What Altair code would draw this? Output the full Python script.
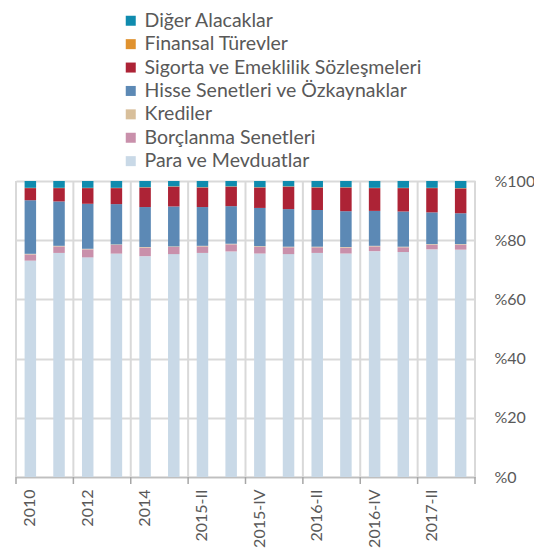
import altair as alt
import pandas as pd

categories = ["2010", "2011", "2012", "2013", "2014", "2015-I", "2015-II", "2015-III",
              "2015-IV", "2016-I", "2016-II", "2016-III", "2016-IV", "2017-I", "2017-II", "2017-III"]

para = [73.1, 75.7, 74.2, 75.4, 74.6, 75.3, 75.7, 76.2, 75.5, 75.3, 75.7, 75.5, 76.3, 76.0, 76.9, 76.8]
borc = [2.1, 2.2, 2.7, 2.9, 2.9, 2.4, 2.2, 2.4, 2.3, 2.3, 1.9, 2.0, 1.6, 1.6, 1.6, 1.7]
kredi = [0.2] * 16
hisse = [18.1, 15.0, 15.2, 13.6, 13.5, 13.5, 13.1, 12.7, 12.9, 12.7, 12.4, 12.1, 11.8, 11.9, 10.7, 10.4]
sigorta = [4.1, 4.5, 5.3, 5.4, 6.6, 6.7, 6.6, 6.6, 6.9, 7.6, 7.6, 8.0, 7.7, 7.9, 8.2, 8.4]
finansal = [0.1] * 16
diger = [2.3, 2.3, 2.3, 2.3, 2.1, 1.8, 2.1, 1.8, 2.1, 1.8, 2.1, 2.1, 2.3, 2.3, 2.3, 2.4]

# stack order: bottom -> top
series_names = ["Para ve Mevduatlar", "Borçlanma Senetleri", "Krediler",
                "\u00a0Hisse Senetleri ve Özkaynaklar", "Sigorta ve Emeklilik Sözleşmeleri",
                "Finansal Türevler", "Diğer Alacaklar"]
series_values = [para, borc, kredi, hisse, sigorta, finansal, diger]
series_colors = ["#C9D9E7", "#C990AB", "#D8BF9B", "#5C89B5", "#AD2336", "#E0922F", "#0F8BAE"]

rows = []
for order, (name, vals) in enumerate(zip(series_names, series_values)):
    for cat, v in zip(categories, vals):
        rows.append({"cat": cat, "series": name, "value": v, "order": order})
df = pd.DataFrame(rows)

legend_domain = series_names[::-1]
legend_range = series_colors[::-1]

label_cats = categories[0::2]
grid_df = pd.DataFrame({"cat": label_cats})
end_df = pd.DataFrame({"cat": [categories[-1]]})

W, H = 459, 296
FONT = "Lato"
TXT = "#595959"

xscale = alt.Scale(domain=categories, paddingInner=0, paddingOuter=0)

bars = alt.Chart(df).mark_bar(width=11.5).encode(
    x=alt.X("cat:N", scale=xscale, sort=categories,
            axis=alt.Axis(values=label_cats, ticks=False, grid=False, domain=True,
                          domainColor="#BFBFBF", domainWidth=1.5, labelAngle=-90,
                          labelFontSize=16, labelColor=TXT, labelFont=FONT,
                          labelPadding=12, title=None)),
    y=alt.Y("value:Q", stack="normalize",
            scale=alt.Scale(domain=[0, 1], nice=False),
            axis=alt.Axis(orient="right", values=[0, 0.2, 0.4, 0.6, 0.8, 1.0],
                          labelExpr="'%' + round(datum.value * 100)",
                          grid=True, gridColor="#D9D9D9", gridWidth=2,
                          domain=False, ticks=False, labelPadding=19,
                          labelFontSize=16, labelColor=TXT, labelFont=FONT, title=None)),
    color=alt.Color("series:N",
                    scale=alt.Scale(domain=legend_domain, range=legend_range),
                    legend=alt.Legend(orient="none", legendX=105, legendY=-170,
                                      title=None, symbolType="square", symbolSize=100,
                                      symbolStrokeWidth=0, labelFontSize=19.5,
                                      labelColor=TXT, labelFont=FONT, rowPadding=2.4,
                                      labelOffset=4, labelLimit=400)),
    order=alt.Order("order:Q", sort="ascending"),
)

vgrid = alt.Chart(grid_df).mark_rule(color="#D9D9D9", strokeWidth=2).encode(
    x=alt.X("cat:N", scale=xscale, bandPosition=0),
    y=alt.value(0), y2=alt.value(H),
)
vgrid_end = alt.Chart(end_df).mark_rule(color="#D9D9D9", strokeWidth=2).encode(
    x=alt.X("cat:N", scale=xscale, bandPosition=1),
    y=alt.value(0), y2=alt.value(H),
)
vticks = alt.Chart(grid_df).mark_rule(color="#A6A6A6", strokeWidth=1.5).encode(
    x=alt.X("cat:N", scale=xscale, bandPosition=0),
    y=alt.value(H), y2=alt.value(H + 7),
)
vticks_end = alt.Chart(end_df).mark_rule(color="#A6A6A6", strokeWidth=1.5).encode(
    x=alt.X("cat:N", scale=xscale, bandPosition=1),
    y=alt.value(H), y2=alt.value(H + 7),
)

chart = alt.layer(vgrid, vgrid_end, bars, vticks, vticks_end).properties(
    width=W, height=H,
    autosize=alt.AutoSizeParams(type="none"),
    padding={"left": 8, "top": 173, "right": 59, "bottom": 72},
).configure_view(stroke=None)

chart.save("out.html", embed_options={"renderer": "svg", "actions": False})
